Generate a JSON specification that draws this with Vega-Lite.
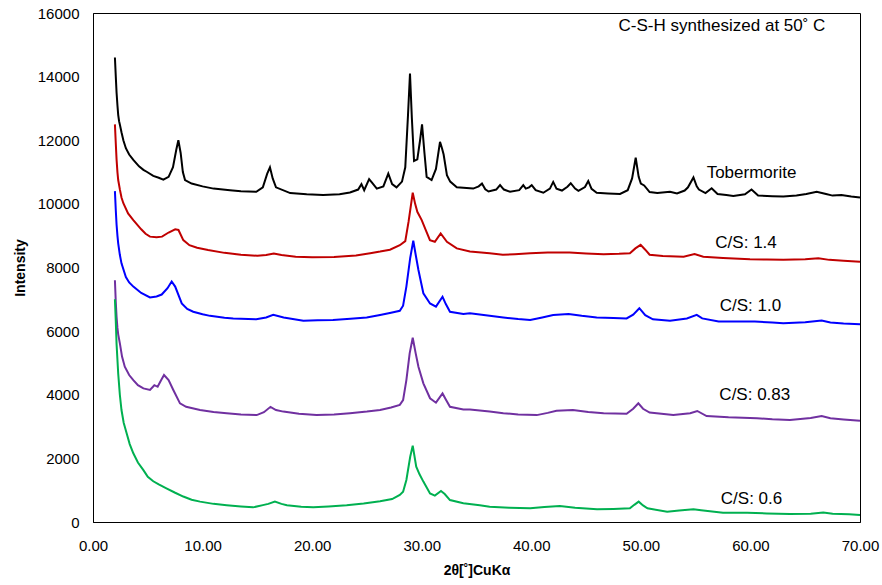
{
  "$schema": "https://vega.github.io/schema/vega-lite/v6.json",
  "width": 767,
  "height": 509,
  "autosize": {"type": "none"},
  "padding": {"left": 93, "top": 13, "right": 22, "bottom": 63},
  "background": "white",
  "config": {
    "view": {"stroke": "#000000", "strokeWidth": 1},
    "font": "Liberation Sans",
    "axis": {
      "grid": false,
      "ticks": false,
      "tickSize": 0,
      "domainColor": "#000000",
      "domainWidth": 1,
      "labelColor": "#000000",
      "labelFont": "Liberation Sans",
      "labelFontSize": 15,
      "labelFlush": false,
      "labelOverlap": false,
      "titleFont": "Liberation Sans",
      "titleFontSize": 14,
      "titleFontWeight": "bold",
      "titleColor": "#000000"
    }
  },
  "datasets": {
    "tob": [
      {"x":2.0,"y":14600},{"x":2.08,"y":14000},{"x":2.15,"y":13500},{"x":2.23,"y":13100},{"x":2.3,"y":12800},{"x":2.38,"y":12600},{"x":2.46,"y":12480},{"x":2.6,"y":12250},{"x":2.77,"y":12000},{"x":3.0,"y":11750},{"x":3.3,"y":11550},{"x":3.68,"y":11380},{"x":4.2,"y":11180},{"x":4.6,"y":11070},{"x":4.9,"y":11010},{"x":5.5,"y":10880},{"x":6.0,"y":10820},{"x":6.42,"y":10760},{"x":6.9,"y":10850},{"x":7.3,"y":11150},{"x":7.6,"y":11700},{"x":7.79,"y":12000},{"x":8.0,"y":11600},{"x":8.2,"y":11000},{"x":8.4,"y":10750},{"x":9.0,"y":10640},{"x":10.0,"y":10550},{"x":11.0,"y":10480},{"x":12.5,"y":10430},{"x":13.5,"y":10400},{"x":14.9,"y":10380},{"x":15.5,"y":10520},{"x":15.9,"y":10950},{"x":16.15,"y":11150},{"x":16.4,"y":10800},{"x":16.7,"y":10520},{"x":18.0,"y":10340},{"x":19.5,"y":10300},{"x":21.0,"y":10280},{"x":22.5,"y":10300},{"x":23.45,"y":10360},{"x":24.2,"y":10450},{"x":24.5,"y":10620},{"x":24.75,"y":10430},{"x":25.2,"y":10780},{"x":25.5,"y":10650},{"x":25.9,"y":10480},{"x":26.5,"y":10550},{"x":26.95,"y":10950},{"x":27.3,"y":10620},{"x":27.7,"y":10520},{"x":28.2,"y":10700},{"x":28.5,"y":11150},{"x":28.75,"y":12800},{"x":28.93,"y":14100},{"x":29.1,"y":12700},{"x":29.3,"y":11350},{"x":29.6,"y":11400},{"x":29.85,"y":12000},{"x":30.03,"y":12500},{"x":30.25,"y":11600},{"x":30.45,"y":10850},{"x":30.9,"y":10750},{"x":31.3,"y":11100},{"x":31.67,"y":11950},{"x":31.85,"y":11750},{"x":32.0,"y":11550},{"x":32.3,"y":10900},{"x":32.6,"y":10700},{"x":33.2,"y":10520},{"x":34.7,"y":10480},{"x":35.2,"y":10550},{"x":35.5,"y":10640},{"x":35.8,"y":10460},{"x":36.1,"y":10390},{"x":36.8,"y":10450},{"x":37.15,"y":10590},{"x":37.5,"y":10450},{"x":38.06,"y":10380},{"x":38.9,"y":10430},{"x":39.27,"y":10590},{"x":39.5,"y":10480},{"x":39.8,"y":10520},{"x":40.04,"y":10590},{"x":40.4,"y":10430},{"x":41.1,"y":10350},{"x":41.7,"y":10480},{"x":42.0,"y":10690},{"x":42.3,"y":10480},{"x":42.8,"y":10420},{"x":43.3,"y":10540},{"x":43.6,"y":10650},{"x":44.0,"y":10480},{"x":44.3,"y":10410},{"x":44.9,"y":10530},{"x":45.2,"y":10720},{"x":45.5,"y":10470},{"x":45.97,"y":10350},{"x":47.0,"y":10330},{"x":48.1,"y":10310},{"x":48.8,"y":10430},{"x":49.2,"y":10800},{"x":49.53,"y":11450},{"x":49.8,"y":10850},{"x":50.0,"y":10640},{"x":50.3,"y":10580},{"x":50.8,"y":10370},{"x":51.5,"y":10340},{"x":52.66,"y":10380},{"x":53.3,"y":10330},{"x":54.0,"y":10420},{"x":54.3,"y":10520},{"x":54.8,"y":10830},{"x":55.1,"y":10550},{"x":55.3,"y":10450},{"x":55.9,"y":10340},{"x":56.46,"y":10490},{"x":57.0,"y":10310},{"x":57.8,"y":10280},{"x":58.44,"y":10250},{"x":59.5,"y":10300},{"x":60.1,"y":10450},{"x":60.7,"y":10260},{"x":62.0,"y":10240},{"x":63.0,"y":10230},{"x":64.2,"y":10260},{"x":65.1,"y":10310},{"x":66.05,"y":10380},{"x":66.9,"y":10310},{"x":67.5,"y":10260},{"x":68.3,"y":10280},{"x":69.2,"y":10230},{"x":70.0,"y":10200}
    ],
    "cs14": [
      {"x":2.0,"y":12500},{"x":2.08,"y":11900},{"x":2.15,"y":11400},{"x":2.23,"y":11000},{"x":2.3,"y":10750},{"x":2.46,"y":10440},{"x":2.6,"y":10200},{"x":2.77,"y":10020},{"x":3.2,"y":9700},{"x":3.68,"y":9490},{"x":4.4,"y":9200},{"x":4.8,"y":9060},{"x":5.2,"y":8970},{"x":5.8,"y":8950},{"x":6.3,"y":8970},{"x":6.9,"y":9100},{"x":7.5,"y":9200},{"x":7.8,"y":9180},{"x":8.24,"y":8860},{"x":8.8,"y":8700},{"x":9.5,"y":8620},{"x":10.5,"y":8550},{"x":12.0,"y":8460},{"x":13.5,"y":8400},{"x":15.0,"y":8370},{"x":15.8,"y":8390},{"x":16.5,"y":8440},{"x":17.2,"y":8390},{"x":18.5,"y":8340},{"x":20.0,"y":8320},{"x":22.0,"y":8330},{"x":24.0,"y":8380},{"x":25.3,"y":8450},{"x":26.2,"y":8500},{"x":27.1,"y":8560},{"x":28.0,"y":8700},{"x":28.5,"y":8830},{"x":28.8,"y":9440},{"x":29.18,"y":10350},{"x":29.4,"y":10000},{"x":29.6,"y":9750},{"x":30.0,"y":9490},{"x":30.4,"y":9150},{"x":30.75,"y":8860},{"x":31.2,"y":8810},{"x":31.73,"y":9070},{"x":32.3,"y":8810},{"x":33.2,"y":8600},{"x":34.4,"y":8500},{"x":36.2,"y":8450},{"x":37.4,"y":8400},{"x":38.5,"y":8420},{"x":39.9,"y":8450},{"x":41.5,"y":8470},{"x":43.5,"y":8470},{"x":45.0,"y":8440},{"x":46.6,"y":8420},{"x":48.0,"y":8430},{"x":49.0,"y":8450},{"x":49.5,"y":8600},{"x":49.98,"y":8710},{"x":50.4,"y":8560},{"x":50.8,"y":8400},{"x":52.0,"y":8360},{"x":53.9,"y":8340},{"x":54.9,"y":8420},{"x":55.7,"y":8340},{"x":57.5,"y":8300},{"x":59.96,"y":8260},{"x":61.5,"y":8250},{"x":63.0,"y":8240},{"x":65.0,"y":8260},{"x":66.2,"y":8290},{"x":67.2,"y":8240},{"x":68.5,"y":8210},{"x":70.0,"y":8180}
    ],
    "cs10": [
      {"x":2.0,"y":10400},{"x":2.08,"y":9800},{"x":2.15,"y":9350},{"x":2.23,"y":9000},{"x":2.3,"y":8760},{"x":2.45,"y":8400},{"x":2.6,"y":8130},{"x":3.0,"y":7700},{"x":3.3,"y":7530},{"x":3.68,"y":7400},{"x":4.4,"y":7200},{"x":5.2,"y":7060},{"x":5.8,"y":7090},{"x":6.27,"y":7150},{"x":6.8,"y":7350},{"x":7.18,"y":7560},{"x":7.5,"y":7400},{"x":8.1,"y":6870},{"x":8.6,"y":6700},{"x":9.15,"y":6610},{"x":10.0,"y":6530},{"x":10.68,"y":6480},{"x":12.0,"y":6420},{"x":12.8,"y":6400},{"x":14.9,"y":6370},{"x":15.8,"y":6430},{"x":16.45,"y":6510},{"x":17.4,"y":6430},{"x":19.2,"y":6330},{"x":20.5,"y":6340},{"x":21.9,"y":6350},{"x":23.5,"y":6390},{"x":24.98,"y":6430},{"x":26.2,"y":6510},{"x":27.2,"y":6580},{"x":28.0,"y":6640},{"x":28.3,"y":6800},{"x":28.6,"y":7400},{"x":28.95,"y":8300},{"x":29.23,"y":8840},{"x":29.45,"y":8400},{"x":29.7,"y":7920},{"x":30.15,"y":7190},{"x":30.76,"y":6870},{"x":31.3,"y":6770},{"x":31.9,"y":7080},{"x":32.2,"y":6850},{"x":32.58,"y":6610},{"x":33.8,"y":6540},{"x":34.4,"y":6560},{"x":36.2,"y":6480},{"x":37.45,"y":6430},{"x":38.8,"y":6380},{"x":39.9,"y":6350},{"x":41.0,"y":6430},{"x":42.0,"y":6510},{"x":43.4,"y":6540},{"x":44.6,"y":6480},{"x":45.97,"y":6430},{"x":47.5,"y":6410},{"x":48.7,"y":6400},{"x":49.3,"y":6520},{"x":49.86,"y":6720},{"x":50.4,"y":6500},{"x":51.1,"y":6370},{"x":52.66,"y":6330},{"x":54.2,"y":6400},{"x":55.1,"y":6510},{"x":55.6,"y":6400},{"x":57.1,"y":6300},{"x":58.5,"y":6300},{"x":60.4,"y":6300},{"x":62.0,"y":6270},{"x":63.0,"y":6250},{"x":65.0,"y":6280},{"x":66.5,"y":6330},{"x":67.3,"y":6270},{"x":68.5,"y":6240},{"x":70.0,"y":6220}
    ],
    "cs083": [
      {"x":2.0,"y":7600},{"x":2.08,"y":6900},{"x":2.15,"y":6450},{"x":2.23,"y":6100},{"x":2.3,"y":5900},{"x":2.46,"y":5600},{"x":2.65,"y":5200},{"x":2.9,"y":4880},{"x":3.3,"y":4620},{"x":3.68,"y":4460},{"x":4.1,"y":4300},{"x":4.6,"y":4200},{"x":5.2,"y":4150},{"x":5.6,"y":4300},{"x":5.9,"y":4250},{"x":6.2,"y":4450},{"x":6.48,"y":4620},{"x":6.9,"y":4460},{"x":7.33,"y":4150},{"x":7.94,"y":3730},{"x":8.5,"y":3620},{"x":9.77,"y":3520},{"x":11.0,"y":3460},{"x":12.2,"y":3420},{"x":13.5,"y":3380},{"x":14.94,"y":3360},{"x":15.6,"y":3450},{"x":16.2,"y":3620},{"x":16.7,"y":3520},{"x":17.37,"y":3470},{"x":18.8,"y":3400},{"x":20.4,"y":3360},{"x":22.0,"y":3380},{"x":23.45,"y":3420},{"x":25.0,"y":3470},{"x":26.2,"y":3520},{"x":27.2,"y":3600},{"x":28.0,"y":3680},{"x":28.3,"y":3830},{"x":28.6,"y":4460},{"x":28.9,"y":5300},{"x":29.18,"y":5790},{"x":29.45,"y":5300},{"x":29.7,"y":4880},{"x":30.15,"y":4360},{"x":30.76,"y":3890},{"x":31.3,"y":3750},{"x":31.9,"y":4040},{"x":32.2,"y":3850},{"x":32.58,"y":3620},{"x":33.8,"y":3540},{"x":34.4,"y":3540},{"x":36.2,"y":3470},{"x":37.45,"y":3420},{"x":38.8,"y":3380},{"x":40.5,"y":3360},{"x":41.5,"y":3430},{"x":42.3,"y":3500},{"x":43.8,"y":3520},{"x":45.2,"y":3460},{"x":46.6,"y":3420},{"x":48.7,"y":3400},{"x":49.3,"y":3560},{"x":49.77,"y":3730},{"x":50.2,"y":3560},{"x":50.8,"y":3440},{"x":52.96,"y":3360},{"x":54.5,"y":3420},{"x":55.15,"y":3490},{"x":56.0,"y":3330},{"x":58.0,"y":3290},{"x":60.6,"y":3260},{"x":62.0,"y":3230},{"x":63.6,"y":3210},{"x":65.5,"y":3270},{"x":66.5,"y":3330},{"x":67.3,"y":3260},{"x":68.5,"y":3220},{"x":70.0,"y":3180}
    ],
    "cs06": [
      {"x":2.0,"y":7000},{"x":2.08,"y":6300},{"x":2.15,"y":5600},{"x":2.23,"y":5100},{"x":2.3,"y":4670},{"x":2.45,"y":4000},{"x":2.6,"y":3520},{"x":2.8,"y":3120},{"x":3.07,"y":2790},{"x":3.35,"y":2450},{"x":3.68,"y":2160},{"x":4.1,"y":1870},{"x":4.6,"y":1630},{"x":5.0,"y":1420},{"x":5.5,"y":1280},{"x":6.0,"y":1180},{"x":6.7,"y":1060},{"x":7.5,"y":920},{"x":8.24,"y":800},{"x":9.0,"y":700},{"x":9.77,"y":640},{"x":11.0,"y":570},{"x":12.2,"y":530},{"x":13.5,"y":490},{"x":14.6,"y":460},{"x":15.5,"y":530},{"x":16.0,"y":570},{"x":16.6,"y":640},{"x":17.2,"y":570},{"x":17.7,"y":530},{"x":19.0,"y":480},{"x":20.1,"y":460},{"x":21.5,"y":490},{"x":23.15,"y":530},{"x":24.7,"y":580},{"x":26.2,"y":650},{"x":27.3,"y":720},{"x":28.0,"y":850},{"x":28.3,"y":950},{"x":28.6,"y":1320},{"x":28.95,"y":2050},{"x":29.18,"y":2400},{"x":29.5,"y":1740},{"x":29.8,"y":1500},{"x":30.15,"y":1270},{"x":30.76,"y":900},{"x":31.2,"y":830},{"x":31.76,"y":975},{"x":32.1,"y":880},{"x":32.58,"y":690},{"x":33.8,"y":590},{"x":35.3,"y":530},{"x":36.2,"y":480},{"x":38.0,"y":450},{"x":39.9,"y":430},{"x":41.2,"y":470},{"x":42.6,"y":500},{"x":44.0,"y":450},{"x":46.0,"y":400},{"x":47.5,"y":410},{"x":49.0,"y":430},{"x":49.4,"y":540},{"x":49.8,"y":640},{"x":50.2,"y":520},{"x":50.6,"y":430},{"x":52.4,"y":320},{"x":53.5,"y":360},{"x":54.8,"y":400},{"x":55.5,"y":370},{"x":57.5,"y":290},{"x":59.7,"y":290},{"x":61.5,"y":270},{"x":63.6,"y":250},{"x":65.5,"y":260},{"x":66.65,"y":300},{"x":67.5,"y":260},{"x":69.0,"y":240},{"x":70.0,"y":220}
    ],
    "labels": [
      {"x":60.1,"y":10970,"text":"Tobermorite"},
      {"x":59.6,"y":8760,"text":"C/S: 1.4"},
      {"x":60.0,"y":6800,"text":"C/S: 1.0"},
      {"x":60.4,"y":3990,"text":"C/S: 0.83"},
      {"x":60.1,"y":730,"text":"C/S: 0.6"}
    ],
    "title": [
      {"x":57.4,"y":15600,"text":"C-S-H synthesized at 50˚ C"}
    ]
  },
  "encoding": {
    "x": {
      "field": "x", "type": "quantitative",
      "scale": {"domain": [0, 70], "nice": false, "zero": false},
      "axis": {"values": [0, 10, 20, 30, 40, 50, 60, 70], "format": ".2f", "title": "2θ[˚]CuKα", "labelPadding": 16, "titlePadding": 10}
    },
    "y": {
      "field": "y", "type": "quantitative",
      "scale": {"domain": [0, 16000], "nice": false},
      "axis": {"values": [0, 2000, 4000, 6000, 8000, 10000, 12000, 14000, 16000], "format": "d", "title": "Intensity", "labelPadding": 14, "titlePadding": 10}
    }
  },
  "layer": [
    {"data": {"name": "tob"}, "mark": {"type": "line", "color": "#000000", "strokeWidth": 2}},
    {"data": {"name": "cs14"}, "mark": {"type": "line", "color": "#C00000", "strokeWidth": 2}},
    {"data": {"name": "cs10"}, "mark": {"type": "line", "color": "#0000FF", "strokeWidth": 2}},
    {"data": {"name": "cs083"}, "mark": {"type": "line", "color": "#7030A0", "strokeWidth": 2}},
    {"data": {"name": "cs06"}, "mark": {"type": "line", "color": "#00B050", "strokeWidth": 2}},
    {"data": {"name": "labels"}, "mark": {"type": "text", "fontSize": 17, "align": "center", "baseline": "middle", "color": "#000000", "font": "Liberation Sans"}, "encoding": {"text": {"field": "text"}}},
    {"data": {"name": "title"}, "mark": {"type": "text", "fontSize": 17, "align": "center", "baseline": "middle", "color": "#000000", "font": "Liberation Sans"}, "encoding": {"text": {"field": "text"}}}
  ]
}
